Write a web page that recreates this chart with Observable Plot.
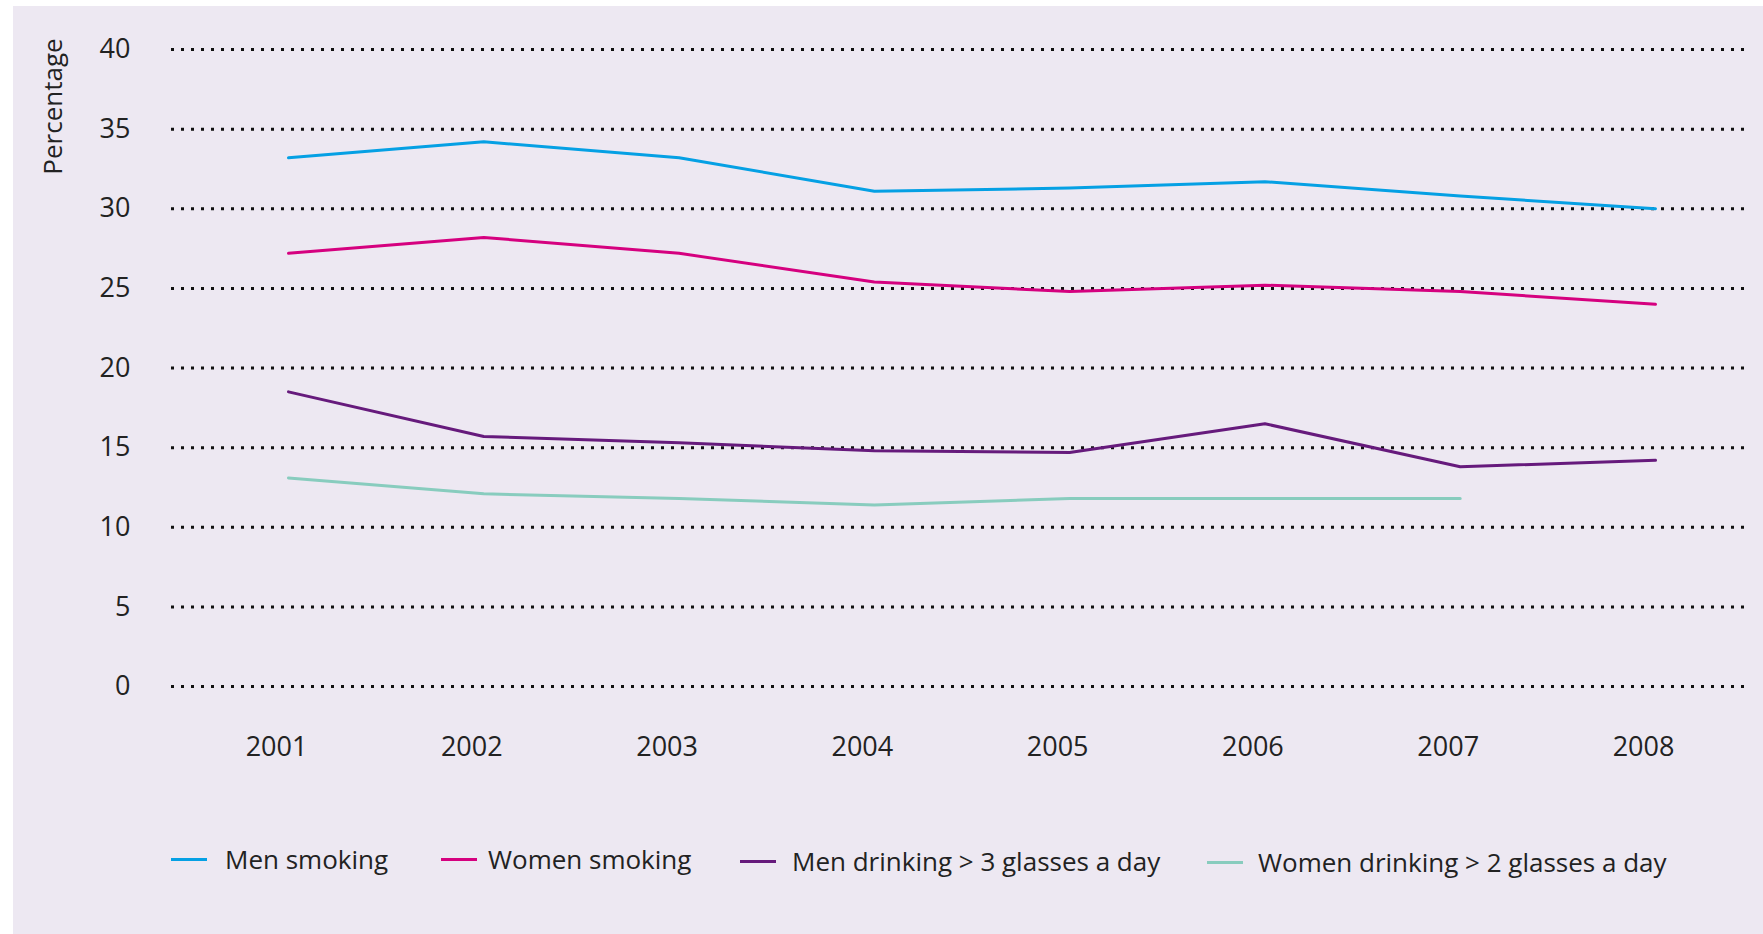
<!DOCTYPE html>
<html><head><meta charset="utf-8">
<script src="https://cdn.jsdelivr.net/npm/d3@7"></script>
<script src="https://cdn.jsdelivr.net/npm/@observablehq/plot@0.6"></script>
<style>
html,body{margin:0;padding:0;background:#fff;}
#panel{position:absolute;left:13px;top:6px;width:1750px;height:928px;background:#ede8f2;font-family:"Open Sans",sans-serif;color:#222;overflow:hidden;}
#panel svg{position:absolute;left:0;top:0;}
#legend{position:absolute;left:0;top:800px;width:1750px;height:128px;}
.item{position:absolute;height:40px;font-size:26px;white-space:nowrap;}
.sw{position:absolute;width:36px;height:3px;}
.tx{position:absolute;line-height:40px;top:0;}
</style></head><body><div id="panel"></div>
<script>
const years = [2001, 2002, 2003, 2004, 2005, 2006, 2007, 2008];
const menSmoking     = [33.2, 34.2, 33.2, 31.1, 31.3, 31.7, 30.8, 30.0];
const womenSmoking   = [27.2, 28.2, 27.2, 25.4, 24.8, 25.2, 24.8, 24.0];
const menDrinking    = [18.5, 15.7, 15.3, 14.8, 14.7, 16.5, 13.8, 14.2];
const womenDrinking  = [13.1, 12.1, 11.8, 11.4, 11.8, 11.8, 11.8, null];
const seriesNames = ["Men smoking", "Women smoking", "Men drinking > 3 glasses a day", "Women drinking > 2 glasses a day"];
const seriesColors = ["#05a0e4", "#d5007f", "#661a7c", "#88ccbe"];
const yTicks = [0, 5, 10, 15, 20, 25, 30, 35, 40];
const yLabel = "Percentage";

const seriesValues = [menSmoking, womenSmoking, menDrinking, womenDrinking];
const rows = [];
seriesValues.forEach((vals, i) => vals.forEach((v, j) => {
  if (v != null) rows.push({year: years[j], value: v, series: seriesNames[i]});
}));

const chart = Plot.plot({
  width: 1750, height: 800,
  marginLeft: 158, marginRight: 15, marginTop: 43, marginBottom: 120,
  style: {background: "transparent", fontFamily: "'Open Sans', sans-serif", fontSize: "27px", color: "#222", overflow: "visible"},
  x: {type: "linear", domain: [2001, 2008], range: [275, 1642]},
  y: {domain: [0, 40], range: [680, 43]},
  color: {domain: seriesNames, range: seriesColors},
  marks: [
    Plot.ruleY(yTicks, {stroke: "#111", strokeWidth: 3, strokeDasharray: "3,7"}),
    Plot.axisY({ticks: yTicks, tickSize: 0, tickPadding: 41, label: null}),
    Plot.axisX({ticks: years, tickSize: 0, tickPadding: 50, tickFormat: d => String(d), dx: -12, label: null}),
    Plot.line(rows, {x: "year", y: "value", z: "series", stroke: "series", strokeWidth: 3}),
    Plot.text([yLabel], {frameAnchor: "top-left", textAnchor: "middle", lineAnchor: "middle", rotate: -90, dx: -118, dy: 57, fontSize: 26, fill: "#222"})
  ]
});
const panel = document.getElementById("panel");
panel.appendChild(chart);

const legend = document.createElement("div");
legend.id = "legend";
const legendPos = [
  {sw: 158, tx: 212, top: 33},
  {sw: 428, tx: 475, top: 33},
  {sw: 727, tx: 779, top: 35},
  {sw: 1194, tx: 1245, top: 36}
];
seriesNames.forEach((name, i) => {
  const p = legendPos[i];
  const item = document.createElement("div");
  item.className = "item";
  item.style.left = "0px";
  item.style.top = p.top + "px";
  const sw = document.createElement("div");
  sw.className = "sw";
  sw.style.left = p.sw + "px";
  sw.style.top = "19px";
  sw.style.background = seriesColors[i];
  const tx = document.createElement("div");
  tx.className = "tx";
  tx.style.left = p.tx + "px";
  tx.textContent = name;
  item.appendChild(sw);
  item.appendChild(tx);
  legend.appendChild(item);
});
panel.appendChild(legend);
</script>
</body></html>
